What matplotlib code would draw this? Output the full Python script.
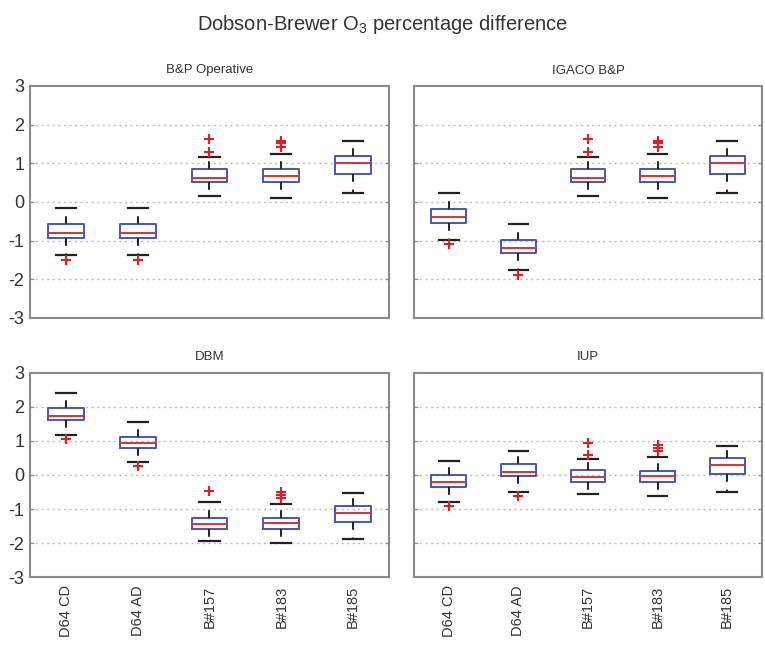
import matplotlib
matplotlib.use("Agg")
import matplotlib.pyplot as plt

plt.rcParams['font.family'] = ['Liberation Sans', 'DejaVu Sans']
plt.rcParams['mathtext.fontset'] = 'custom'
plt.rcParams['mathtext.rm'] = 'Liberation Sans'
plt.rcParams['mathtext.it'] = 'Liberation Sans'
plt.rcParams['axes.unicode_minus'] = False

categories = ["D64 CD", "D64 AD", "B#157", "B#183", "B#185"]
panel_titles = ["B&P Operative", "IGACO B&P", "DBM", "IUP"]
yticks = [-3, -2, -1, 0, 1, 2, 3]

# B&P Operative
bp_whislo = [-1.37, -1.37, 0.15, 0.10, 0.23]
bp_q1 = [-0.94, -0.94, 0.51, 0.51, 0.73]
bp_med = [-0.79, -0.80, 0.63, 0.68, 1.00]
bp_q3 = [-0.58, -0.58, 0.85, 0.85, 1.19]
bp_whishi = [-0.15, -0.15, 1.17, 1.24, 1.58]
bp_fliers = [[-1.50], [-1.50], [1.30, 1.62], [1.43, 1.52, 1.58], []]

# IGACO B&P
ig_whislo = [-0.97, -1.76, 0.15, 0.10, 0.23]
ig_q1 = [-0.54, -1.33, 0.51, 0.51, 0.73]
ig_med = [-0.38, -1.20, 0.63, 0.68, 1.00]
ig_q3 = [-0.18, -0.98, 0.85, 0.85, 1.19]
ig_whishi = [0.23, -0.58, 1.17, 1.24, 1.58]
ig_fliers = [[-1.08], [-1.88], [1.30, 1.62], [1.43, 1.52, 1.58], []]

# DBM
db_whislo = [1.17, 0.37, -1.95, -1.99, -1.88]
db_q1 = [1.62, 0.78, -1.60, -1.60, -1.37]
db_med = [1.74, 0.93, -1.44, -1.42, -1.11]
db_q3 = [1.96, 1.13, -1.27, -1.27, -0.90]
db_whishi = [2.40, 1.55, -0.80, -0.85, -0.52]
db_fliers = [[1.07], [0.25], [-0.48], [-0.51, -0.60, -0.69], []]

# IUP
iu_whislo = [-0.78, -0.49, -0.56, -0.61, -0.49]
iu_q1 = [-0.36, -0.03, -0.22, -0.20, 0.03]
iu_med = [-0.20, 0.10, -0.05, -0.02, 0.29]
iu_q3 = [0.00, 0.31, 0.15, 0.13, 0.49]
iu_whishi = [0.41, 0.72, 0.47, 0.54, 0.86]
iu_fliers = [[-0.91], [-0.61], [0.59, 0.93], [0.72, 0.80, 0.88], []]

panels = [
    (bp_whislo, bp_q1, bp_med, bp_q3, bp_whishi, bp_fliers),
    (ig_whislo, ig_q1, ig_med, ig_q3, ig_whishi, ig_fliers),
    (db_whislo, db_q1, db_med, db_q3, db_whishi, db_fliers),
    (iu_whislo, iu_q1, iu_med, iu_q3, iu_whishi, iu_fliers),
]

W, H = 765, 645
fig = plt.figure(figsize=(W / 100, H / 100), dpi=100)

boxes_px = [
    (30, 86, 389, 318),
    (414, 86, 762, 318),
    (30, 373, 389, 577),
    (414, 373, 762, 577),
]

text_col = "#333333"
edge_col = "#8a8a8a"

for i, (px, data) in enumerate(zip(boxes_px, panels)):
    x0, y0, x1, y1 = px
    ax = fig.add_axes([x0 / W, 1 - y1 / H, (x1 - x0) / W, (y1 - y0) / H])
    whislo, q1, med, q3, whishi, fliers = data
    stats = []
    for k in range(len(categories)):
        stats.append(dict(whislo=whislo[k], q1=q1[k], med=med[k], q3=q3[k],
                          whishi=whishi[k], fliers=fliers[k], label=categories[k]))
    ax.bxp(stats, positions=range(1, 6), widths=0.5,
           boxprops=dict(color="#4455bb", linewidth=1.4),
           medianprops=dict(color="#e03030", linewidth=1.4),
           whiskerprops=dict(color="#222222", linewidth=1.4, linestyle=(0, (4, 4))),
           capprops=dict(color="#222222", linewidth=1.6),
           flierprops=dict(marker="+", markeredgecolor="#e02020", markersize=6.5,
                           markeredgewidth=1.5, linestyle="none"),
           capwidths=0.28)
    ax.set_xlim(0.5, 5.5)
    ax.set_ylim(-3, 3)
    ax.set_yticks(yticks)
    for yv in yticks[1:-1]:
        ax.axhline(yv, color="#bbbbbb", linestyle=(0, (1.5, 2.5)), linewidth=1.0, zorder=0)
    ax.tick_params(axis="y", direction="in", right=True, length=3, color=edge_col,
                   labelsize=13, labelcolor=text_col, pad=4)
    if i % 2 == 1:
        ax.set_yticklabels([])
    if i < 2:
        ax.set_xticks([])
    else:
        ax.set_xticks(range(1, 6))
        ax.set_xticklabels(categories, rotation=90, fontsize=10.5, color=text_col)
        ax.tick_params(axis="x", length=0, pad=6)
    for s in ax.spines.values():
        s.set_color(edge_col)
        s.set_linewidth(1.5)
    ax.set_title(panel_titles[i], fontsize=9.5, color=text_col, pad=9)

fig.text(0.5, 1 - 25 / H, "Dobson-Brewer O$_3$ percentage difference",
         ha="center", va="center", fontsize=14.5, color=text_col)

fig.savefig("out.png", dpi=100, facecolor="white")
